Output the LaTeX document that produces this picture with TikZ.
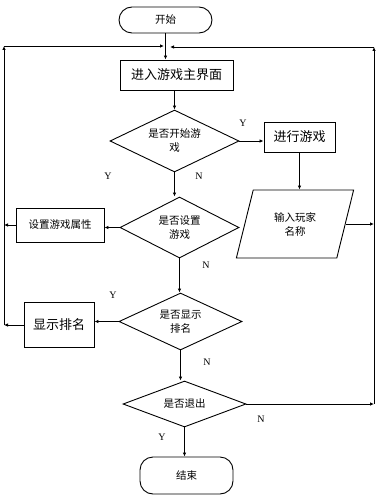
\documentclass[tikz,border=0pt]{standalone}
\usepackage{fontspec}
\setmainfont{Liberation Serif}
\newfontfamily\cjk{Noto Sans CJK SC}
\usetikzlibrary{arrows.meta,shapes.geometric}
\tikzset{
  flowarr/.style={-{Latex[length=4pt,width=3.5pt]}, line width=0.9pt},
  flowbox/.style={draw, line width=0.9pt, align=center, inner sep=1pt},
  flowbig/.style={font=\cjk\fontsize{13}{16}\selectfont},
}

\begin{document}
\begin{tikzpicture}[
  x=1pt, y=-1pt,
  font=\cjk\fontsize{10.5}{14}\selectfont,
  term/.style={flowbox, rounded corners=13pt, minimum width=93pt},
  proc/.style={flowbox, rectangle},
  decide/.style={flowbox, diamond, aspect=2},
  io/.style={flowbox, trapezium, trapezium left angle=71, trapezium right angle=109, trapezium stretches=true},
  yn/.style={font=\rmfamily\fontsize{10}{12}\selectfont},
]
  \useasboundingbox (0,0) rectangle (379,500);

  % Main column
  \node[term, minimum height=26pt] (start) at (165.5,20) {开始};
  \node[proc, flowbig, minimum width=113pt, minimum height=30pt] (main) at (176.5,75) {进入游戏主界面};
  \node[decide, minimum width=129pt, minimum height=62pt] (qplay) at (174.5,141) {是否开始游\\戏};
  \node[decide, minimum width=119pt, minimum height=61pt] (qset) at (179.5,227.5) {是否设置\\游戏};
  \node[decide, minimum width=123pt, minimum height=57pt] (qrank) at (180.5,321.5) {是否显示\\排名};
  \node[decide, minimum width=123pt, minimum height=46pt] (qexit) at (184.5,404) {是否退出};
  \node[term, minimum height=37pt] (stop) at (186.5,475.5) {结束};

  % Right column
  \node[proc, flowbig, minimum width=71pt, minimum height=30pt] (play) at (299.5,137) {进行游戏};
  \node[io, minimum width=118pt, minimum height=68pt] (name) at (295,224) {输入玩家\\名称};

  % Left column
  \node[proc, minimum width=88pt, minimum height=34pt] (setup) at (60,225) {设置游戏属性};
  \node[proc, flowbig, minimum width=70pt, minimum height=45pt] (rank) at (59,325) {显示排名};

  % Loop corners
  \coordinate (ltop) at (4,46);
  \coordinate (lmerge) at (164,46);
  \coordinate (rtop) at (374,47);
  \coordinate (rmerge) at (170,47);

  % Labels
  \node[yn] (yplay) at (243,123) {Y};
  \node[yn] (nplay) at (199,176) {N};
  \node[yn] (yset) at (108,176) {Y};
  \node[yn] (nset) at (206,265) {N};
  \node[yn] (yrank) at (113,295) {Y};
  \node[yn] (nrank) at (207,362) {N};
  \node[yn] (nexit) at (261,419) {N};
  \node[yn] (yexit) at (162,437) {Y};

  \draw[flowarr] (start.south) -- (start.south |- main.north);
  \draw[flowarr] (qplay.north |- main.south) -- (qplay.north);
  \draw[flowarr] (qplay.east) -- (qplay.east -| play.west);
  \draw[flowarr] (play.south) -- (play.south |- name.north);
  \draw[flowarr] (name.east) -- (name.east -| rtop);

  \draw[flowarr] (qplay.south) -- (qplay.south |- qset.north);
  \draw[flowarr] (qset.west) -- (qset.west -| setup.east);
  \draw[flowarr] (setup.west) -- (setup.west -| ltop);
  \draw[flowarr] (qset.south) -- (qset.south |- qrank.north);
  \draw[flowarr] (qrank.west) -- (qrank.west -| rank.east);
  \draw[flowarr] (rank.west) -- (rank.west -| ltop);
  \draw[flowarr] (qrank.south) -- (qrank.south |- qexit.north);
  \draw[flowarr] (qexit.east) -- (qexit.east -| rtop);
  \draw[flowarr] (qexit.south) -- (qexit.south |- stop.north);

  % Back loops
  \draw[flowarr] (rank.west -| ltop) -- (ltop);
  \draw[flowarr] (ltop) -- (lmerge);
  \draw[flowarr] (qexit.east -| rtop) -- (rtop);
  \draw[flowarr] (rtop) -- (rmerge);

\end{tikzpicture}
\end{document}
